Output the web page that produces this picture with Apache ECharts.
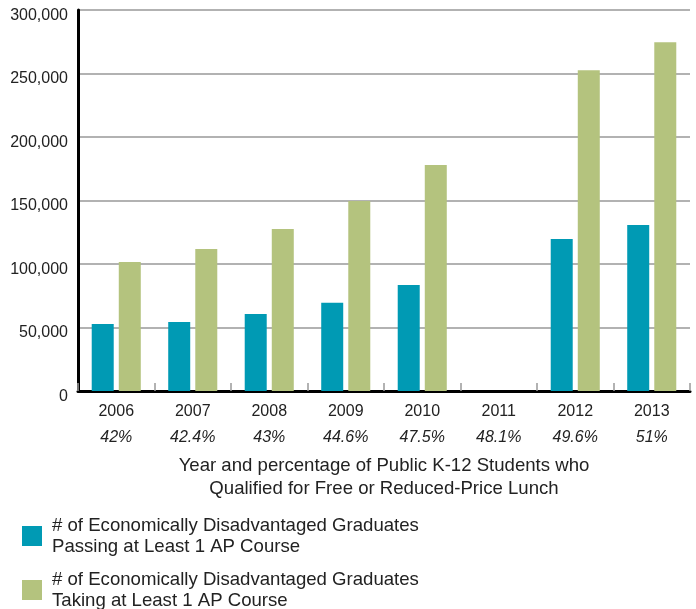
<!DOCTYPE html>
<html>
<head>
<meta charset="utf-8">
<script src="https://cdn.jsdelivr.net/npm/echarts@6/dist/echarts.min.js"></script>
<style>
  html, body { margin: 0; padding: 0; background: #fff; }
  #chart { width: 696px; height: 609px; }
</style>
</head>
<body>
<div id="chart"></div>
<script>
// Years and the share of students qualifying for free or reduced-price lunch
const years = ['2006', '2007', '2008', '2009', '2010', '2011', '2012', '2013'];
const lunchShare = ['42%', '42.4%', '43%', '44.6%', '47.5%', '48.1%', '49.6%', '51%'];

// Graduate counts per year (2011 has no data)
const passingAP = [52800, 54300, 60600, 69500, 83500, null, 119700, 130700];
const takingAP = [101600, 111800, 127600, 149600, 178000, null, 252600, 274600];

const seriesNames = [
  '# of Economically Disadvantaged Graduates\nPassing at Least 1 AP Course',
  '# of Economically Disadvantaged Graduates\nTaking at Least 1 AP Course'
];
const colors = ['#009ab4', '#b4c37e'];

const FONT = 'Liberation Sans, Arial, sans-serif';
const TEXT = '#222';
const BIG = 18.6;

// one legend block per series, stacked under the axis title
function legendBlock(name, top) {
  return {
    left: 22,
    top: top,
    padding: 0,
    itemWidth: 20,
    itemHeight: 20,
    icon: 'rect',
    selectedMode: false,
    textStyle: { fontFamily: FONT, fontSize: BIG, color: TEXT, lineHeight: 21, padding: [0, 0, 0, 5] },
    data: [name]
  };
}

const chart = echarts.init(document.getElementById('chart'));
chart.setOption({
  animation: false,
  color: colors,
  textStyle: { fontFamily: FONT },
  grid: { left: 78, right: 6, top: 10, bottom: 218, containLabel: false },
  legend: [
    legendBlock(seriesNames[0], 515),
    legendBlock(seriesNames[1], 569)
  ],
  xAxis: {
    type: 'category',
    data: years,
    name: 'Year and percentage of Public K-12 Students who\nQualified for Free or Reduced-Price Lunch',
    nameLocation: 'middle',
    nameGap: 63,
    nameTextStyle: { fontFamily: FONT, fontSize: BIG, color: TEXT, lineHeight: 23, verticalAlign: 'top' },
    axisLine: { show: true, lineStyle: { color: '#000', width: 3 } },
    axisTick: { show: true, inside: true, length: 8, lineStyle: { color: '#999', width: 1.5 } },
    axisLabel: {
      margin: 8,
      formatter: function (v, i) { return '{y|' + v + '}\n{p|' + lunchShare[i] + '}'; },
      rich: {
        y: { fontFamily: FONT, fontSize: 16, color: TEXT, lineHeight: 26 },
        p: { fontFamily: FONT, fontSize: 16, color: TEXT, fontStyle: 'italic', lineHeight: 26 }
      }
    }
  },
  yAxis: {
    type: 'value',
    min: 0,
    max: 300000,
    interval: 50000,
    axisLine: { show: true, lineStyle: { color: '#000', width: 3 } },
    axisTick: { show: false },
    splitLine: { show: true, lineStyle: { color: '#999', width: 1.5 } },
    axisLabel: {
      margin: 10,
      verticalAlign: 'top',
      lineHeight: 11,
      fontFamily: FONT,
      fontSize: 16,
      color: TEXT,
      formatter: function (v) { return v.toLocaleString('en-US'); }
    }
  },
  series: [
    {
      name: seriesNames[0],
      type: 'bar',
      data: passingAP,
      barWidth: 22,
      barGap: '23%'
    },
    {
      name: seriesNames[1],
      type: 'bar',
      data: takingAP,
      barWidth: 22
    }
  ]
});
</script>
</body>
</html>
